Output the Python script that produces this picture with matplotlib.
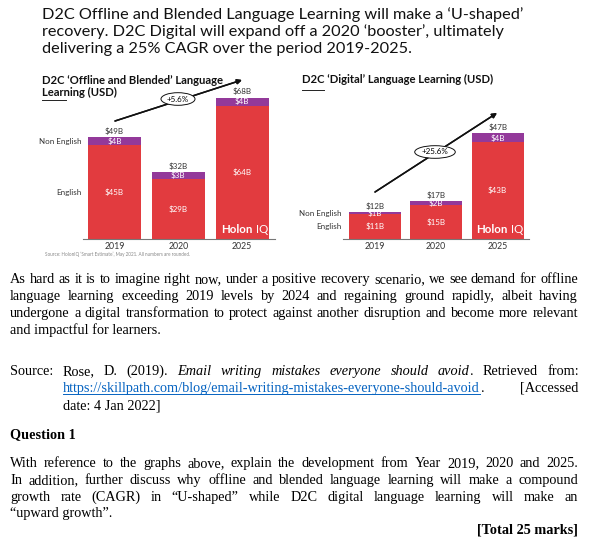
import matplotlib
matplotlib.use('Agg')
import matplotlib.pyplot as plt
from matplotlib.lines import Line2D
import numpy as np

W, H = 589, 554
DPI = 100

years = ['2019', '2020', '2025']
# D2C offline and blended (USD bn)
off_english = [45, 29, 64]
off_non_english = [4, 3, 4]
off_total = [49, 32, 68]
off_cagr = '+5.6%'
# D2C digital (USD bn)
dig_english = [11, 15, 43]
dig_non_english = [1, 2, 4]
dig_total = [12, 17, 47]
dig_cagr = '+25.6%'

RED = '#E23B3F'
PURPLE = '#93399A'
LINK = '#0563C1'
SANS = ['Lato', 'DejaVu Sans']
SERIF = ['Liberation Serif', 'DejaVu Serif']
PT = 72 / DPI  # points per pixel


def fx(x):
    return x / W


def fy(y):
    return 1 - y / H


fig = plt.figure(figsize=(W / DPI, H / DPI), dpi=DPI)
fig.patch.set_facecolor('white')


def bar_panel(left, right, px_per_unit, centers, width_px, eng, non, tot):
    # axes placed so the baseline sits at y=239 px
    base = 239
    top = 60
    ax = fig.add_axes([fx(left), fy(base), fx(right - left), (base - top) / H])
    ax.set_facecolor('none')
    spacing = centers[1] - centers[0]
    x = np.arange(len(years))
    ax.set_xlim(-(centers[0] - left) / spacing, 2 + (right - centers[2]) / spacing)
    ax.set_ylim(0, (base - top) / px_per_unit)
    bw = width_px / spacing
    ax.bar(x, eng, width=bw, color=RED, zorder=2)
    ax.bar(x, non, width=bw, bottom=eng, color=PURPLE, zorder=2)
    for i in range(len(x)):
        ax.text(x[i], eng[i] / 2, '$%dB' % eng[i], ha='center', va='center',
                color='white', fontsize=5.8, family=SANS, zorder=3)
        ax.text(x[i], eng[i] + non[i] / 2, '$%dB' % non[i], ha='center', va='center',
                color='white', fontsize=5.8, family=SANS, zorder=3)
        ax.annotate('$%dB' % tot[i], (x[i], tot[i]), xytext=(0, 1.5),
                    textcoords='offset points', ha='center', va='bottom',
                    color='#333333', fontsize=5.8, family=SANS)
    for s in ['top', 'right', 'left']:
        ax.spines[s].set_visible(False)
    ax.spines['bottom'].set_color('#777777')
    ax.spines['bottom'].set_linewidth(0.8)
    ax.set_yticks([])
    ax.set_xticks(x)
    ax.set_xticklabels(years, fontsize=6.3, family=SANS, color='#333333')
    ax.tick_params(axis='x', length=0, pad=2)
    x0 = ax.get_xlim()[0]
    ax.text(x0 - 0.02, eng[0] + non[0] / 2, 'Non English', ha='right', va='center',
            fontsize=5.8, family=SANS, color='#333333')
    ax.text(x0 - 0.02, eng[0] / 2, 'English', ha='right', va='center',
            fontsize=5.8, family=SANS, color='#333333')
    # logo in the corner of the last bar
    ax.annotate('Holon', (x[2] + bw / 2, 0), xytext=(-47 * PT, 3),
                textcoords='offset points', ha='left', va='bottom',
                color='white', fontsize=8.3, weight='bold', family=SANS, zorder=3)
    ax.annotate('IQ', (x[2] + bw / 2, 0), xytext=(-13 * PT, 3),
                textcoords='offset points', ha='left', va='bottom',
                color='white', fontsize=8.3, family=SANS, zorder=3)
    return ax


ax1 = bar_panel(83, 275, 2.08, [114.5, 178.5, 242], 53,
                off_english, off_non_english, off_total)
ax2 = bar_panel(343, 529, 2.25, [375, 436.5, 497.5], 52,
                dig_english, dig_non_english, dig_total)

# panel titles
fig.text(fx(42), fy(86.5), 'D2C ‘Offline and Blended’ Language\nLearning (USD)',
         fontsize=8.1, weight='bold', family=SANS, va='center', ha='left',
         linespacing=1.15, color='#111111')
fig.add_artist(Line2D([fx(42), fx(66)], [fy(99.5), fy(99.5)], color='#222222', lw=0.7))
fig.text(fx(302), fy(79.5), 'D2C ‘Digital’ Language Learning (USD)',
         fontsize=8.1, weight='bold', family=SANS, va='center', ha='left', color='#111111')
fig.add_artist(Line2D([fx(302), fx(324)], [fy(90), fy(90)], color='#222222', lw=0.7))

# CAGR arrows
for (sx, sy), (ex, ey), (lx, ly), lab in [((115, 121), (242, 80), (178, 99), off_cagr),
                                         ((375, 192), (497, 113), (435, 152), dig_cagr)]:
    fig.add_artist(plt.annotate('', xy=(fx(ex), fy(ey)), xytext=(fx(sx), fy(sy)),
                                xycoords='figure fraction', textcoords='figure fraction',
                                arrowprops=dict(arrowstyle='-|>', color='#111111', lw=1.1,
                                                mutation_scale=7, shrinkA=0, shrinkB=0)))
    fig.text(fx(lx), fy(ly), lab, ha='center', va='center', fontsize=5.8, family=SANS,
             bbox=dict(boxstyle='ellipse,pad=0.12', fc='white', ec='#111111', lw=0.7))

fig.text(fx(45), fy(254), 'Source: HolonIQ ‘Smart Estimate’, May 2021. All numbers are rounded.',
         fontsize=3.3, family=SANS, color='#888888', va='center')

# headline
headline = ['D2C Offline and Blended Language Learning will make a ‘U-shaped’',
            'recovery. D2C Digital will expand off a 2020 ‘booster’, ultimately',
            'delivering a 25% CAGR over the period 2019-2025.']
for i, ln in enumerate(headline):
    fig.text(fx(42), fy(15 + 17 * i), ln, fontsize=11.7, family=SANS,
             va='center', ha='left', color='#111111')

# document text, justified word by word
renderer = fig.canvas.get_renderer()
BODY = 10.3


def put_line(words, x0, x1, y, size=BODY):
    arts = []
    for w, kw in words:
        opts = dict(fontsize=size, family=SERIF, va='baseline', ha='left', color='black')
        opts.update({k: v for k, v in kw.items() if k != 'glue'})
        arts.append(fig.text(0, 0, w, **opts))
    widths = [t.get_window_extent(renderer).width for t in arts]
    glued = [kw.get('glue', False) for w, kw in words]
    n_gaps = sum(1 for g in glued[1:] if not g)
    gap = (x1 - x0 - sum(widths)) / max(n_gaps, 1)
    x = x0
    for i, (t, wd, (w, kw)) in enumerate(zip(arts, widths, words)):
        if i > 0:
            x += 0.8 if glued[i] else gap
        t.set_position((fx(x), fy(y)))
        if kw.get('color') == LINK:
            fig.add_artist(Line2D([fx(x), fx(x + wd)], [fy(y + 1.5), fy(y + 1.5)],
                                  color=LINK, lw=0.7))
        x += wd


def last_line(s, x0, y, **kw):
    fig.text(fx(x0), fy(y), s, fontsize=BODY, family=SERIF, va='baseline', ha='left', **kw)


def plain(s):
    return [(w, {}) for w in s.split()]


L, R = 10, 578
para1 = ['As hard as it is to imagine right now, under a positive recovery scenario, we see demand for offline',
         'language learning exceeding 2019 levels by 2024 and regaining ground rapidly, albeit having',
         'undergone a digital transformation to protect against another disruption and become more relevant',
         'and impactful for learners.']
for i, ln in enumerate(para1[:-1]):
    put_line(plain(ln), L, R, 283 + 17 * i)
last_line(para1[-1], L, 283 + 17 * 3)

src1 = (plain('Source: Rose, D. (2019).')
        + [(w, {'style': 'italic'}) for w in 'Email writing mistakes everyone should avoid'.split()]
        + [('.', {'glue': True})]
        + plain('Retrieved from:'))
put_line(src1, L, R, 375)
put_line([('https://skillpath.com/blog/email-writing-mistakes-everyone-should-avoid', {'color': LINK}),
          ('.', {'glue': True}), ('[Accessed', {})], 63, R, 392)
last_line('date: 4 Jan 2022]', 63, 409)

last_line('Question 1', L, 438, weight='bold')

para2 = ['With reference to the graphs above, explain the development from Year 2019, 2020 and 2025.',
         'In addition, further discuss why offline and blended language learning will make a compound',
         'growth rate (CAGR) in “U-shaped” while D2C digital language learning will make an',
         '“upward growth”.']
for i, ln in enumerate(para2[:-1]):
    put_line(plain(ln), L, R, 467 + 16.8 * i)
last_line(para2[-1], L, 467 + 16.8 * 3)

fig.text(fx(R), fy(533), '[Total 25 marks]', fontsize=BODY, family=SERIF, weight='bold',
         ha='right', va='baseline')

fig.savefig('out.png', dpi=DPI, facecolor='white')
